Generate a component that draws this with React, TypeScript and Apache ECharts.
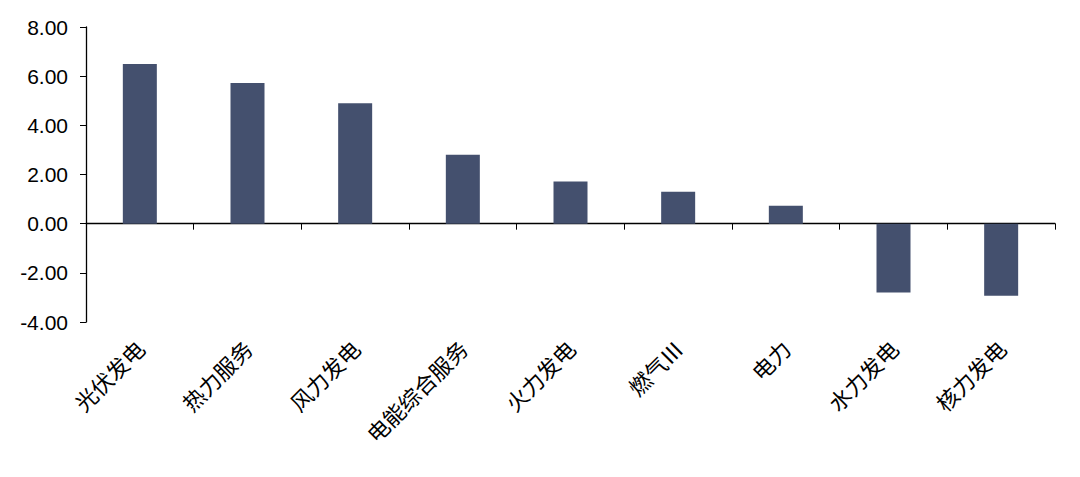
import React, { useEffect, useRef } from "react";
import * as echarts from "echarts";

const categories = ["光伏发电", "热力服务", "风力发电", "电能综合服务", "火力发电", "燃气Ⅲ", "电力", "水力发电", "核力发电"];
const values = [6.5, 5.72, 4.9, 2.8, 1.72, 1.3, 0.73, -2.8, -2.93];
const yTicks = { min: -4, max: 8, interval: 2 };

export default function App() {
  const ref = useRef<HTMLDivElement>(null);
  useEffect(() => {
    const chart = echarts.init(ref.current!, null, { renderer: "svg" });
    const font = "'Liberation Sans', Arial, 'Noto Sans CJK SC', sans-serif";
    chart.setOption({
      animation: false,
      grid: { left: 86, right: 25, top: 27, bottom: 155 },
      xAxis: [
        {
          type: "category",
          data: categories,
          axisLine: { onZero: true, lineStyle: { color: "#000", width: 1.3 } },
          axisTick: { show: true, alignWithLabel: false, length: 6, lineStyle: { color: "#000" } },
          axisLabel: { show: false },
        },
        {
          type: "category",
          data: categories,
          position: "bottom",
          axisLine: { show: false, onZero: false },
          axisTick: { show: false },
          axisLabel: {
            rotate: 45,
            interval: 0,
            margin: 22,
            fontSize: 22,
            color: "#000",
            fontFamily: "'Noto Sans CJK SC', sans-serif",
          },
        },
      ],
      yAxis: {
        type: "value",
        min: yTicks.min,
        max: yTicks.max,
        interval: yTicks.interval,
        axisLine: { show: true, lineStyle: { color: "#000", width: 1.3 } },
        axisTick: { show: true, length: 6, lineStyle: { color: "#000" } },
        splitLine: { show: false },
        axisLabel: {
          formatter: (v: number) => v.toFixed(2),
          fontSize: 21,
          color: "#000",
          margin: 18,
          fontFamily: font,
        },
      },
      series: [
        {
          type: "bar",
          data: values,
          barWidth: 34,
          itemStyle: { color: "#44506E" },
          xAxisIndex: 0,
        },
      ],
    });
    return () => chart.dispose();
  }, []);
  return <div ref={ref} style={{ width: 1080, height: 477, position: "absolute", left: 0, top: 0 }} />;
}
